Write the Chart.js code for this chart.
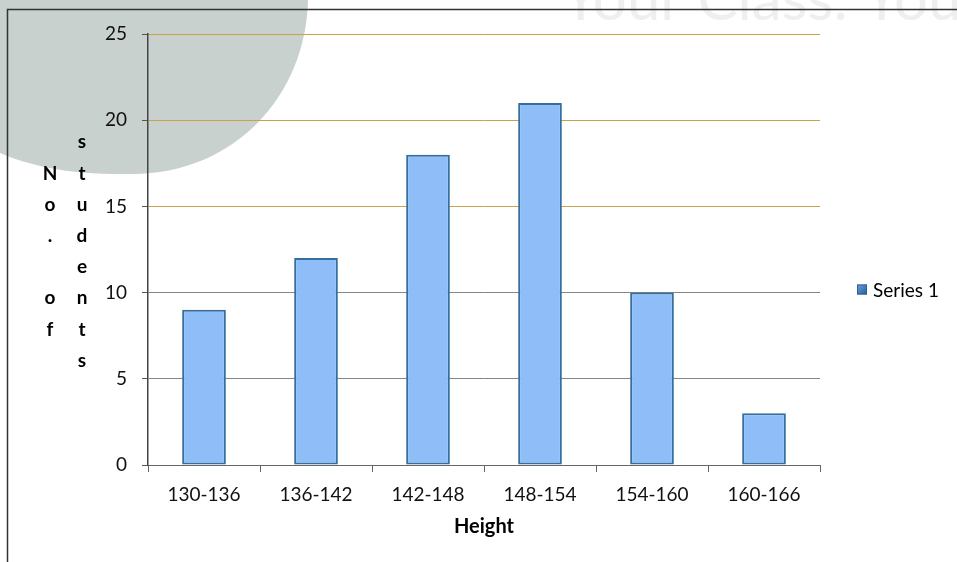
<!DOCTYPE html>
<html>
<head>
<meta charset="utf-8">
<script src="https://cdn.jsdelivr.net/npm/chart.js@4/dist/chart.umd.min.js"></script>
<style>
html, body { margin: 0; padding: 0; background: #fff; }
</style>
</head>
<body>
<canvas id="myChart" width="957" height="562"></canvas>
<script>
var categories = ['130-136', '136-142', '142-148', '148-154', '154-160', '160-166'];
var students = [9, 12, 18, 21, 10, 3];
var yMin = 0, yMax = 25, yStep = 5;
var yTitleCols = ['No. of', 'students'];
var xTitle = 'Height';
var seriesName = 'Series 1';

var FONT = 'Lato, "Open Sans", sans-serif';

// background: frame + the grey watermark blob from the source picture
var backdrop = {
  id: 'backdrop',
  beforeDraw: function(chart) {
    var ctx = chart.ctx;
    ctx.save();
    ctx.fillStyle = '#fff';
    ctx.fillRect(0, 0, chart.width, chart.height);

    ctx.fillStyle = '#c9d1ce';
    ctx.beginPath();
    ctx.moveTo(0, 0);
    ctx.lineTo(308, 0);
    ctx.bezierCurveTo(306, 95, 235, 174, 132, 174);
    ctx.bezierCurveTo(70, 175, 30, 166, 0, 153);
    ctx.closePath();
    ctx.fill();

    ctx.fillStyle = '#efefef';
    ctx.font = '60px ' + FONT;
    ctx.textBaseline = 'alphabetic';
    ctx.fillText('Your Class. Your', 562, 20);

    ctx.strokeStyle = '#333';
    ctx.lineWidth = 1.5;
    ctx.beginPath();
    ctx.moveTo(7.5, chart.height);
    ctx.lineTo(7.5, 9.5);
    ctx.lineTo(chart.width, 9.5);
    ctx.stroke();
    ctx.restore();
  },
  afterDraw: function(chart) {
    var ctx = chart.ctx;
    var area = chart.chartArea;
    ctx.save();
    // stacked vertical axis title, one letter per row, two columns
    ctx.fillStyle = '#000';
    ctx.font = 'bold 19px ' + FONT;
    ctx.textAlign = 'center';
    ctx.textBaseline = 'middle';
    var step = 31.2;
    var mid = (area.top + area.bottom) / 2 + 2;
    var colX = [50, 82];
    yTitleCols.forEach(function(word, c) {
      var start = mid - (word.length - 1) * step / 2;
      for (var i = 0; i < word.length; i++) {
        ctx.fillText(word[i], colX[c], start + i * step);
      }
    });

    // legend
    var ly = (area.top + area.bottom) / 2 + 40;
    var g = ctx.createLinearGradient(857, ly - 5, 867, ly + 5);
    g.addColorStop(0, '#6ea3df');
    g.addColorStop(1, '#1f5c9e');
    ctx.fillStyle = g;
    ctx.fillRect(857, ly - 5, 10, 10);
    ctx.strokeStyle = '#2d5f8f';
    ctx.lineWidth = 1;
    ctx.strokeRect(857.5, ly - 4.5, 9, 9);
    ctx.fillStyle = '#000';
    ctx.font = '19px ' + FONT;
    ctx.textAlign = 'left';
    ctx.fillText(chart.data.datasets[0].label, 873, ly + 1);
    ctx.restore();
  }
};

document.addEventListener('DOMContentLoaded', function() {
  var ctx = document.getElementById('myChart').getContext('2d');
  new Chart(ctx, {
    type: 'bar',
    data: {
      labels: categories,
      datasets: [{
        label: seriesName,
        data: students,
        backgroundColor: '#8ebdf7',
        borderColor: '#336e9c',
        borderWidth: 2,
        borderSkipped: false,
        categoryPercentage: 1,
        barPercentage: 0.39
      }]
    },
    options: {
      responsive: false,
      animation: false,
      devicePixelRatio: 1,
      layout: { padding: { left: 0, top: 34, right: 137, bottom: 0 } },
      plugins: {
        legend: { display: false },
        tooltip: { enabled: false }
      },
      scales: {
        x: {
          afterFit: function(scale) { scale.height = 97; },
          grid: {
            drawOnChartArea: false,
            tickLength: 7,
            color: '#666'
          },
          border: { color: '#666', width: 1 },
          ticks: {
            color: '#111',
            padding: 11,
            font: { family: FONT, size: 19 }
          },
          title: {
            display: true,
            text: xTitle,
            color: '#000',
            padding: { top: 0, bottom: 23 },
            font: { family: FONT, size: 20, weight: 'bold' }
          }
        },
        y: {
          min: yMin,
          max: yMax,
          afterFit: function(scale) { scale.width = 148; },
          grid: {
            tickLength: 6,
            color: function(c) { return c.tick && c.tick.value >= 15 ? '#c7a34c' : '#858585'; },
            tickColor: '#555'
          },
          border: { color: '#444', width: 1.5 },
          ticks: {
            stepSize: yStep,
            color: '#111',
            padding: 15,
            font: { family: FONT, size: 19 }
          }
        }
      }
    },
    plugins: [backdrop]
  });
});
</script>
</body>
</html>
